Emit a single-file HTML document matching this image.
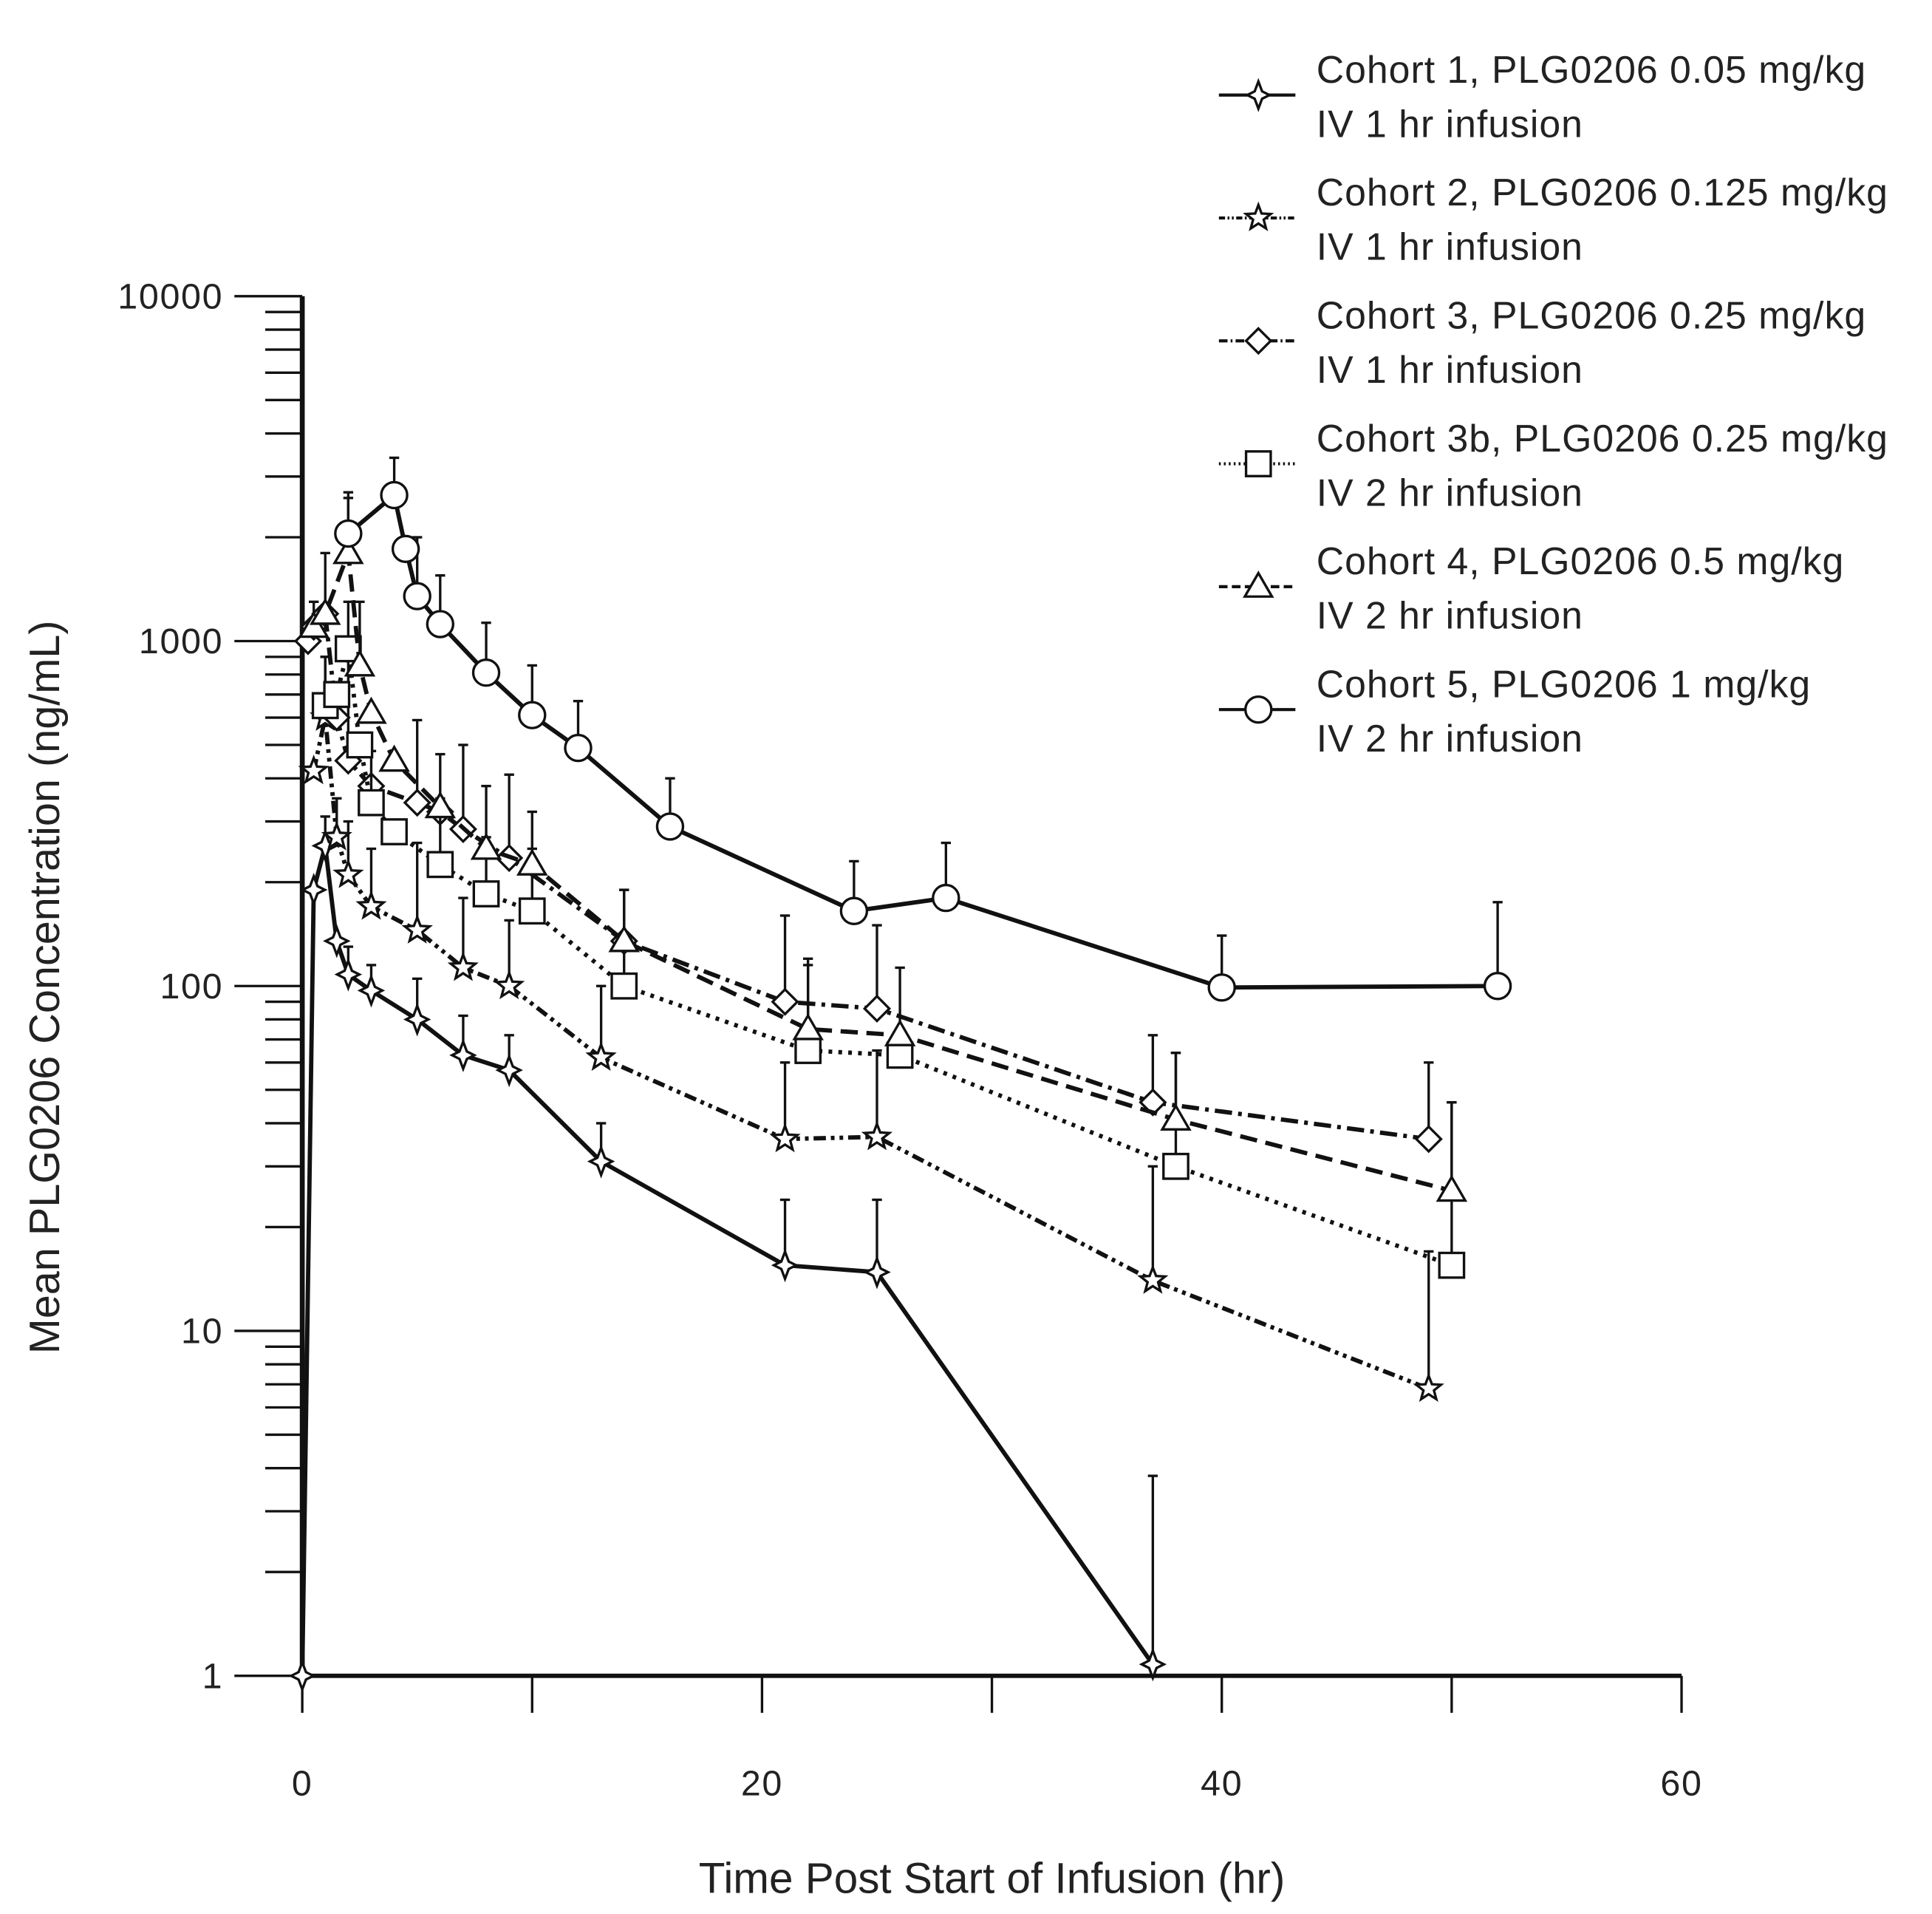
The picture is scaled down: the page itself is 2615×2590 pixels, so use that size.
<!DOCTYPE html>
<html><head><meta charset="utf-8"><style>
html,body{margin:0;padding:0;background:#fff;}
svg{display:block;}
text{font-family:"Liberation Sans",sans-serif;fill:#222;}
</style></head><body>
<svg id="chart" width="2615" height="2590" viewBox="0 0 1566 1551" xmlns="http://www.w3.org/2000/svg">
<g id="axes"></g>
<g id="series"></g>
<g id="legend"></g>
<text x="804" y="1534" font-size="35" text-anchor="middle">Time Post Start of Infusion (hr)</text>
<text x="0" y="0" font-size="34.5" text-anchor="middle" transform="translate(48,800) rotate(-90)">Mean PLG0206 Concentration (ng/mL)</text>
</svg>
<script>
const xTicks=[0,20,40,60];
const xMinorTicks=[10,30,50];
const yTicks=[1,10,100,1000,10000];
const yTickLabels=['1','10','100','1000','10000'];
const seriesNames=['Cohort 1, PLG0206 0.05 mg/kg','Cohort 2, PLG0206 0.125 mg/kg','Cohort 3, PLG0206 0.25 mg/kg','Cohort 3b, PLG0206 0.25 mg/kg','Cohort 4, PLG0206 0.5 mg/kg','Cohort 5, PLG0206 1 mg/kg'];
const seriesSub=['IV 1 hr infusion','IV 1 hr infusion','IV 1 hr infusion','IV 2 hr infusion','IV 2 hr infusion','IV 2 hr infusion'];
const c1x=[0,0.5,1,1.5,2,3,5,7,9,13,21,25,37];
const c1y=[1,190,255,135,108,97,80,63,57,31,15.5,14.8,1.08];
const c1e=[null,null,310,null,130,115,105,82,72,40,24,24,3.8];
const c2x=[0.5,1,1.5,2,3,5,7,9,13,21,25,37,49];
const c2y=[420,600,270,210,170,145,113,100,62,36,36.5,14,6.8];
const c2e=[null,900,350,300,250,260,180,155,100,60,65,30,17];
const c3x=[0.25,0.5,1,1.5,2,3,5,6,7,9,14,21,25,37,49];
const c3y=[1000,1100,1200,600,450,380,340,320,285,235,135,90,86,46,36];
const c3e=[null,1300,1800,null,900,null,590,470,500,410,190,160,150,72,60];
const c3bx=[1,1.5,2,2.5,3,4,6,8,10,14,22,26,38,50];
const c3by=[650,700,950,500,340,280,225,185,165,100,65,63,30,15.5];
const c3be=[900,null,1300,null,480,null,350,270,250,190,115,113,64,46];
const c4x=[0.5,1,2,2.5,3,4,6,8,10,14,22,26,38,50];
const c4y=[1100,1200,1800,850,620,450,330,250,225,135,75,72,41,25.5];
const c4e=[null,null,2600,1300,null,null,null,380,320,null,120,null,64,46];
const c5x=[2,4,4.5,5,6,8,10,12,16,24,28,40,52];
const c5y=[2050,2650,1850,1350,1120,810,610,490,290,165,180,99,100];
const c5e=[2700,3400,null,2000,1550,1130,850,670,400,230,260,140,175];

const NS='http://www.w3.org/2000/svg';
const X0=245,X1=1363,Y0=1358,Ytop=240;
function sx(v){return X0+(X1-X0)*v/60;}
function sy(v){return Y0-(Y0-Ytop)*Math.log10(v)/4;}
function mk(tag,attrs,parent){const e=document.createElementNS(NS,tag);for(const k in attrs)e.setAttribute(k,attrs[k]);parent.appendChild(e);return e;}
const axes=document.getElementById('axes');
let e;
e=mk('line',{x1:X0,y1:Ytop,x2:X0,y2:Y0+2,stroke:'#111','stroke-width':4},axes);


e=mk('line',{x1:X0-2,y1:Y0,x2:X1,y2:Y0,stroke:'#111','stroke-width':3.5},axes);


yTicks.forEach((t,i)=>{
  let l=mk('line',{x1:190,y1:sy(t),x2:X0,y2:sy(t),stroke:'#111','stroke-width':2},axes);
  
  
  let tx=mk('text',{x:181,y:sy(t)+10,'font-size':29,'letter-spacing':'1','text-anchor':'end'},axes);
  tx.textContent=yTickLabels[i];
  
  
  if(i<yTicks.length-1){for(let m=2;m<=9;m++){
    let ml=mk('line',{x1:215,y1:sy(t*m),x2:X0,y2:sy(t*m),stroke:'#111','stroke-width':2},axes);
    
    
  }}
});
xTicks.forEach(t=>{
  let l=mk('line',{x1:sx(t),y1:Y0,x2:sx(t),y2:Y0+30,stroke:'#111','stroke-width':2},axes);
  
  
  let tx=mk('text',{x:sx(t),y:1455,'font-size':29,'letter-spacing':'1','text-anchor':'middle'},axes);
  tx.textContent=String(t);
  
  
});
xMinorTicks.forEach(t=>{
  let l=mk('line',{x1:sx(t),y1:Y0,x2:sx(t),y2:Y0+30,stroke:'#111','stroke-width':2},axes);
  
  
});

const styles=[
 {dash:'',marker:'star4'},
 {dash:'10 4 3 4 3 4',marker:'star5'},
 {dash:'14 5 3 5',marker:'diamond'},
 {dash:'3 5',marker:'square'},
 {dash:'14 7',marker:'triangle'},
 {dash:'',marker:'circle'}
];
const data=[[c1x,c1y,c1e],[c2x,c2y,c2e],[c3x,c3y,c3e],[c3bx,c3by,c3be],[c4x,c4y,c4e],[c5x,c5y,c5e]];
function marker(type,x,y,g){
  let m;
  const a={fill:'#fff',stroke:'#111','stroke-width':2};
  if(type==='circle'){m=mk('circle',Object.assign({cx:x,cy:y,r:10.5},a),g);}
  else if(type==='square'){m=mk('rect',Object.assign({x:x-10,y:y-10,width:20,height:20},a),g);}
  else if(type==='triangle'){m=mk('polygon',Object.assign({points:`${x},${y-11} ${x+11},${y+8} ${x-11},${y+8}`},a),g);}
  else if(type==='diamond'){m=mk('polygon',Object.assign({points:`${x},${y-10} ${x+10},${y} ${x},${y+10} ${x-10},${y}`},a),g);}
  else if(type==='star4'){m=mk('polygon',Object.assign({points:`${x},${y-11} ${x+3},${y-3} ${x+9},${y} ${x+3},${y+3} ${x},${y+11} ${x-3},${y+3} ${x-9},${y} ${x-3},${y-3}`},a),g);}
  else {let p=[];for(let k=0;k<10;k++){const r=k%2?4.5:10.5;const an=-Math.PI/2+k*Math.PI/5;p.push((x+r*Math.cos(an)).toFixed(1)+','+(y+r*Math.sin(an)).toFixed(1));}
    m=mk('polygon',Object.assign({points:p.join(' ')},a),g);}
  return m;
}
const sg=document.getElementById('series');
data.forEach((d,si)=>{
  const g=mk('g',{},sg);
  
  
  const [xs,ys,es]=d;
  xs.forEach((x,i)=>{ if(es[i]!=null){
    let l=mk('line',{x1:sx(x),y1:sy(ys[i]),x2:sx(x),y2:sy(es[i]),stroke:'#111','stroke-width':2},g);
    
    
    let c=mk('line',{x1:sx(x)-4,y1:sy(es[i]),x2:sx(x)+4,y2:sy(es[i]),stroke:'#111','stroke-width':2},g);
    
    
  }});
  const pts=xs.map((x,i)=>sx(x).toFixed(1)+','+sy(ys[i]).toFixed(1)).join(' ');
  let pl=mk('polyline',{points:pts,fill:'none',stroke:'#111','stroke-width':3.5,'stroke-dasharray':styles[si].dash},g);
  
  
  xs.forEach((x,i)=>{
    let m=marker(styles[si].marker,sx(x),sy(ys[i]),g);
    
    
  });
});
const lg=document.getElementById('legend');
seriesNames.forEach((n,i)=>{
  const y=77+i*99.6;
  const g=mk('g',{},lg);
  
  
  let l=mk('line',{x1:988,y1:y,x2:1050,y2:y,stroke:'#111','stroke-width':2.5,'stroke-dasharray':styles[i].dash?styles[i].dash.split(' ').map(v=>v*0.5).join(' '):''},g);
  
  
  let m=marker(styles[i].marker,1020,y,g);
  
  
  let t1=mk('text',{x:1067,y:y-10,'font-size':31,'letter-spacing':'0.6'},g);
  t1.textContent=n;
  
  
  let t2=mk('text',{x:1067,y:y+34,'font-size':31,'letter-spacing':'0.6'},g);
  t2.textContent=seriesSub[i];
  
  
});
</script>
</body></html>
